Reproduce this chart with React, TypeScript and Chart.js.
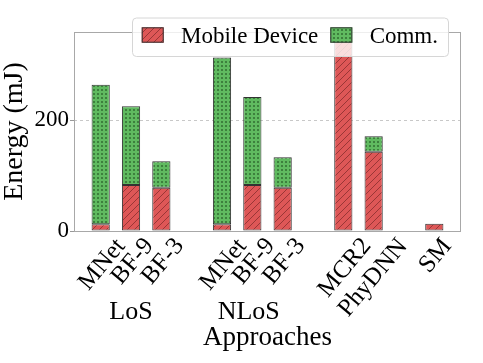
import React, { useEffect, useRef } from 'react';
import { Chart, registerables } from 'chart.js';

Chart.register(...registerables);

// ---------- data ----------
const approaches = ['MNet', 'BF-9', 'BF-3', '', 'MNet', 'BF-9', 'BF-3', '', 'MCR2', 'PhyDNN', '', 'SM'];
const mobileDevice: (number | null)[] = [12, 83, 78, null, 12, 83, 78, null, 342, 143, null, 13];
const comm: (number | null)[] = [252, 142, 48, null, 301, 159, 55, null, null, 28, null, null];
const groupLabels = ['LoS', 'NLoS'];
const groupPositions = [1, 4.88];
const yTicks = [0, 200];
const seriesNames = ['Mobile Device', 'Comm.'];
const xTitle = 'Approaches';
const yTitle = 'Energy (mJ)';

// ---------- style ----------
const FONT = "'Liberation Serif', serif";
const RED = '#DE5757';
const GREEN = '#60BA60';
const EDGE = '#333333';
const FRAME = '#a8a8a8';
const BAR_WIDTH = 0.6;
const MARGIN = 0.05;
const ROT = (50 * Math.PI) / 180;

function makeHatch(base: string, kind: 'diag' | 'dots'): CanvasPattern | string {
  const c = document.createElement('canvas');
  const s = kind === 'diag' ? 7 : 4;
  c.width = s;
  c.height = s;
  const g = c.getContext('2d');
  if (!g) return base;
  g.fillStyle = base;
  g.fillRect(0, 0, s, s);
  if (kind === 'diag') {
    g.strokeStyle = 'rgba(70,15,15,0.45)';
    g.lineWidth = 1;
    g.beginPath();
    g.moveTo(-1, s + 1);
    g.lineTo(s + 1, -1);
    g.moveTo(-1, 1);
    g.lineTo(1, -1);
    g.moveTo(s - 1, s + 1);
    g.lineTo(s + 1, s - 1);
    g.stroke();
  } else {
    g.fillStyle = 'rgba(25,70,25,0.5)';
    g.fillRect(1, 1, 2, 2);
  }
  return g.createPattern(c, 'repeat') || base;
}

function roundRect(ctx: CanvasRenderingContext2D, x: number, y: number, w: number, h: number, r: number) {
  ctx.beginPath();
  ctx.moveTo(x + r, y);
  ctx.lineTo(x + w - r, y);
  ctx.arcTo(x + w, y, x + w, y + r, r);
  ctx.lineTo(x + w, y + h - r);
  ctx.arcTo(x + w, y + h, x + w - r, y + h, r);
  ctx.lineTo(x + r, y + h);
  ctx.arcTo(x, y + h, x, y + h - r, r);
  ctx.lineTo(x, y + r);
  ctx.arcTo(x, y, x + r, y, r);
  ctx.closePath();
}

export default function App() {
  const ref = useRef<HTMLCanvasElement | null>(null);

  useEffect(() => {
    const canvas = ref.current;
    if (!canvas) return;
    const redPat = makeHatch(RED, 'diag');
    const greenPat = makeHatch(GREEN, 'dots');
    const fills = [redPat, greenPat];

    const n = approaches.length;
    const span = n - 1 + BAR_WIDTH;
    const xMin = -BAR_WIDTH / 2 - MARGIN * span;
    const xMax = n - 1 + BAR_WIDTH / 2 + MARGIN * span;
    const totals = approaches.map((_, i) => (mobileDevice[i] ?? 0) + (comm[i] ?? 0));
    const yMax = Math.max(...totals) * (1 + MARGIN);

    const decor = {
      id: 'decor',
      afterDatasetsDraw(chart: any) {
        const { ctx, chartArea: ca, scales } = chart;
        ctx.save();
        // frame
        ctx.strokeStyle = FRAME;
        ctx.lineWidth = 1;
        ctx.strokeRect(ca.left + 0.5, ca.top + 0.5, ca.width - 1, ca.height);
        // x tick labels (rotated, centred on tick)
        const xs = scales.x;
        ctx.fillStyle = '#000';
        ctx.font = `25px ${FONT}`;
        approaches.forEach((lab, i) => {
          if (!lab) return;
          const m = ctx.measureText(lab);
          const L = m.actualBoundingBoxLeft;
          const R = m.actualBoundingBoxRight;
          const a = m.actualBoundingBoxAscent;
          const d = m.actualBoundingBoxDescent;
          const w = L + R;
          const h = a + d;
          const H = w * Math.sin(ROT) + h * Math.cos(ROT);
          const cx = xs.getPixelForValue(i);
          const cy = ca.bottom + 4.5 + H / 2;
          ctx.save();
          ctx.translate(cx, cy);
          ctx.rotate(-ROT);
          ctx.textAlign = 'left';
          ctx.textBaseline = 'alphabetic';
          ctx.fillText(lab, -(R - L) / 2, (a - d) / 2);
          ctx.restore();
        });
        // group labels
        ctx.font = `26px ${FONT}`;
        ctx.textAlign = 'center';
        ctx.textBaseline = 'alphabetic';
        groupLabels.forEach((g, k) => {
          ctx.fillText(g, xs.getPixelForValue(groupPositions[k]), ca.bottom + 88);
        });
        ctx.restore();
      },
      afterDraw(chart: any) {
        const { ctx, chartArea: ca } = chart;
        ctx.save();
        ctx.font = `23px ${FONT}`;
        const padL = 9.7;
        const padR = 10;
        const sw = 22;
        const sh = 15.4;
        const gapText = 17.3;
        const gapItem = 12;
        const widths = seriesNames.map((s) => ctx.measureText(s).width);
        const total = padL + sw + gapText + widths[0] + gapItem + sw + gapText + widths[1] + padR;
        const bx = ca.right - 13 - total;
        const by = ca.top - 14.5;
        const bh = 38.5;
        roundRect(ctx, bx + 0.5, by + 0.5, total, bh, 4);
        ctx.fillStyle = 'rgba(255,255,255,0.8)';
        ctx.fill();
        ctx.strokeStyle = '#d6d6d6';
        ctx.lineWidth = 1;
        ctx.stroke();
        let x = bx + padL;
        seriesNames.forEach((s, k) => {
          ctx.fillStyle = fills[k] as any;
          ctx.fillRect(x, by + 9.8, sw, sh);
          ctx.strokeStyle = EDGE;
          ctx.strokeRect(x + 0.5, by + 9.8 + 0.5, sw - 1, sh - 1);
          ctx.fillStyle = '#000';
          ctx.textAlign = 'left';
          ctx.textBaseline = 'alphabetic';
          ctx.fillText(s, x + sw + gapText, by + 25);
          x += sw + gapText + widths[k] + gapItem;
        });
        ctx.restore();
      },
    };

    const chart = new Chart(canvas, {
      type: 'bar',
      data: {
        datasets: [
          {
            label: seriesNames[0],
            data: mobileDevice.map((y, i) => ({ x: i, y })) as any,
            backgroundColor: redPat as any,
            borderColor: EDGE,
            borderWidth: 1,
            borderSkipped: false,
            barPercentage: BAR_WIDTH,
            categoryPercentage: 1,
          },
          {
            label: seriesNames[1],
            data: comm.map((y, i) => ({ x: i, y })) as any,
            backgroundColor: greenPat as any,
            borderColor: EDGE,
            borderWidth: 1,
            borderSkipped: false,
            barPercentage: BAR_WIDTH,
            categoryPercentage: 1,
          },
        ],
      },
      options: {
        animation: false,
        responsive: false,
        devicePixelRatio: 1,
        layout: { padding: { top: 32, right: 22, left: 0, bottom: 0 } },
        font: { family: FONT },
        plugins: {
          legend: { display: false },
          tooltip: { enabled: false },
          title: { display: false },
        },
        scales: {
          x: {
            type: 'linear',
            stacked: true,
            offset: false,
            min: xMin,
            max: xMax,
            ticks: { display: false },
            grid: { display: false, offset: false },
            border: { display: false },
            title: {
              display: true,
              text: xTitle,
              color: '#000',
              font: { family: FONT, size: 27 },
              padding: { top: 0, bottom: 9 },
            },
            afterFit: (s: any) => {
              s.height = 132;
            },
          },
          y: {
            type: 'linear',
            stacked: true,
            min: 0,
            max: yMax,
            afterBuildTicks: (s: any) => {
              s.ticks = yTicks.map((v) => ({ value: v }));
            },
            ticks: {
              color: '#000',
              font: { family: FONT, size: 23 },
              padding: 1,
            },
            grid: {
              color: (c: any) => (c.tick && c.tick.value === 0 ? 'rgba(0,0,0,0)' : '#c8c8c8'),
              lineWidth: 1,
              tickColor: '#999',
              tickLength: 4,
              tickWidth: 1,
              borderDash: [3, 3],
            } as any,
            border: { display: false, dash: [3, 3] },
            title: {
              display: true,
              text: yTitle,
              color: '#000',
              font: { family: FONT, size: 28, lineHeight: 1 },
              padding: { top: 1, bottom: 0 },
            },
            afterFit: (s: any) => {
              s.width = 74;
            },
          },
        },
      } as any,
      plugins: [decor],
    });
    return () => chart.destroy();
  }, []);

  return (
    <div style={{ position: 'fixed', left: 0, top: 0, width: 483, height: 363, background: '#fff' }}>
      <canvas ref={ref} width={483} height={363} style={{ display: 'block' }} />
    </div>
  );
}
